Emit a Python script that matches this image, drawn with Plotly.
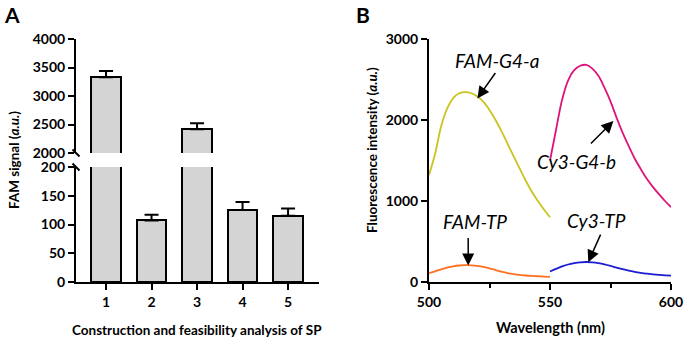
import plotly.graph_objects as go

# ---------------- data ----------------
categories = [1, 2, 3, 4, 5]
fam_signal = [3328, 107, 2416, 125, 115]
fam_err = [111, 10, 105, 14, 13]

wl_fam = [500, 502.5, 505, 507.5, 510, 512.5, 515, 517.5, 520, 522.5, 525,
          527.5, 530, 532.5, 535, 537.5, 540, 542.5, 545, 547.5, 550]
fam_g4a = [1320, 1580, 1920, 2140, 2270, 2330, 2345, 2330, 2290, 2225, 2125,
           2000, 1860, 1705, 1550, 1400, 1250, 1115, 1000, 895, 800]
fam_tp = [110, 132, 157, 178, 194, 204, 208, 206, 199, 186, 168,
          148, 128, 111, 98, 88, 80, 75, 71, 67, 64]

wl_cy3 = [550, 552.5, 555, 557.5, 560, 562.5, 565, 567.5, 570, 572.5, 575,
          577.5, 580, 582.5, 585, 587.5, 590, 592.5, 595, 597.5, 600]
cy3_g4b = [1500, 1880, 2250, 2490, 2615, 2670, 2680, 2635, 2545, 2400, 2230,
           2030, 1845, 1680, 1525, 1395, 1275, 1175, 1085, 1000, 925]
cy3_tp = [130, 162, 192, 216, 232, 243, 247, 243, 233, 218, 199,
          178, 158, 140, 125, 113, 103, 95, 88, 83, 78]

W, H = 685, 339
FONT = "Lato"


def px(x):
    return x / W


def py(y):
    return (H - y) / H


fig = go.Figure()

# ---------- panel A : broken-axis bar chart ----------
low_max, high_min = 200, 2000
low_err = [e if v < low_max else 0 for v, e in zip(fam_signal, fam_err)]
fig.add_trace(go.Bar(
    x=categories, y=fam_signal, width=0.64,
    marker=dict(color="#d4d4d4", line=dict(color="black", width=2)),
    error_y=dict(type="data", array=low_err, arrayminus=[0] * 5, symmetric=False,
                 color="black", thickness=2, width=7),
    xaxis="x", yaxis="y", showlegend=False))

hi_x = [c for c, v in zip(categories, fam_signal) if v >= high_min]
hi_y = [v for v in fam_signal if v >= high_min]
hi_e = [e for v, e in zip(fam_signal, fam_err) if v >= high_min]
fig.add_trace(go.Bar(
    x=hi_x, y=hi_y, width=0.64,
    marker=dict(color="#d4d4d4", line=dict(color="black", width=2)),
    error_y=dict(type="data", array=hi_e, arrayminus=[0] * len(hi_e), symmetric=False,
                 color="black", thickness=2, width=7),
    xaxis="x", yaxis="y3", showlegend=False))

# ---------- panel B : spectra ----------
fig.add_trace(go.Scatter(x=wl_fam, y=fam_g4a, mode="lines", line=dict(color="#c9c41e", width=1.8, shape="spline"),
                         xaxis="x2", yaxis="y2", showlegend=False))
fig.add_trace(go.Scatter(x=wl_fam, y=fam_tp, mode="lines", line=dict(color="#ff6f1f", width=1.8, shape="spline"),
                         xaxis="x2", yaxis="y2", showlegend=False))
fig.add_trace(go.Scatter(x=wl_cy3, y=cy3_g4b, mode="lines", line=dict(color="#df1479", width=1.8, shape="spline"),
                         xaxis="x2", yaxis="y2", showlegend=False))
fig.add_trace(go.Scatter(x=wl_cy3, y=cy3_tp, mode="lines", line=dict(color="#1b1bd2", width=1.8, shape="spline"),
                         xaxis="x2", yaxis="y2", showlegend=False))

tickfont = dict(family=FONT, size=14, color="black", weight="bold")
axis_common = dict(showline=True, linecolor="black", linewidth=2, ticks="outside",
                   ticklen=6, tickwidth=2, tickcolor="black", showgrid=False,
                   zeroline=False, tickfont=tickfont, fixedrange=True, automargin=False)

fig.update_layout(
    width=W, height=H, margin=dict(l=0, r=0, t=0, b=0, pad=0), autosize=False,
    paper_bgcolor="white", plot_bgcolor="white", bargap=0,
    xaxis=dict(domain=[px(76), px(319)], range=[0.34, 5.68], anchor="y",
               tickvals=categories, ticktext=[str(c) for c in categories], **axis_common),
    yaxis=dict(domain=[py(282), py(167)], range=[0, low_max], anchor="x",
               tickvals=[0, 50, 100, 150, 200], **axis_common),
    yaxis3=dict(domain=[py(153), py(39)], range=[high_min, 4000], anchor="x",
                tickvals=[2000, 2500, 3000, 3500, 4000], **axis_common),
    xaxis2=dict(domain=[px(429), px(671)], range=[500, 600], anchor="y2",
                tickvals=[500, 550, 600],
                minor=dict(tickvals=[525, 575], ticks="outside", ticklen=4, tickwidth=2, tickcolor="black"),
                **axis_common),
    yaxis2=dict(domain=[py(282), py(39)], range=[0, 3000], anchor="x2",
                tickvals=[0, 1000, 2000, 3000], **axis_common),
)

# axis break marks
for y0 in (149.5, 163.5):
    fig.add_shape(type="line", xref="paper", yref="paper",
                  x0=px(72.5), x1=px(79.5), y0=py(y0), y1=py(y0 + 7),
                  line=dict(color="black", width=2))

ann = []
# panel letters
ann.append(dict(text="<b>A</b>", x=px(12), y=py(14), font=dict(family=FONT, size=21, color="black")))
ann.append(dict(text="<b>B</b>", x=px(363), y=py(14), font=dict(family=FONT, size=21, color="black")))
# axis titles
ann.append(dict(text="<b>FAM signal (<i>a.u.</i>)</b>", x=px(14), y=py(160), textangle=-90,
                font=dict(family=FONT, size=13.5, color="black")))
ann.append(dict(text="<b>Construction and feasibility analysis of SP</b>", x=px(197), y=py(330),
                font=dict(family=FONT, size=13.5, color="black")))
ann.append(dict(text="<b>Fluorescence intensity (<i>a.u.</i>)</b>", x=px(372), y=py(150), textangle=-90,
                font=dict(family=FONT, size=13.5, color="black")))
ann.append(dict(text="<b>Wavelength (nm)</b>", x=px(550), y=py(327),
                font=dict(family=FONT, size=14.5, color="black")))
# curve labels
lab_font = dict(family=FONT, size=19, color="black", style="italic")
ann.append(dict(text="FAM-G4-a", x=px(497), y=py(60), font=lab_font))
ann.append(dict(text="Cy3-G4-b", x=px(576), y=py(161), font=lab_font))
ann.append(dict(text="FAM-TP", x=px(475), y=py(221), font=lab_font))
ann.append(dict(text="Cy3-TP", x=px(596), y=py(220), font=lab_font))
for a in ann:
    a.update(xref="paper", yref="paper", showarrow=False, xanchor="center", yanchor="middle")
    fig.add_annotation(**a)

# arrows (head at data point, tail offset in px)
arrows = [(520.0, 2266, 19, -27), (576.2, 1988, -24, 24), (516.2, 204, 0, -29), (565.8, 245, 13, -29)]
for xh, yh, axp, ayp in arrows:
    fig.add_annotation(x=xh, y=yh, xref="x2", yref="y2", text="", showarrow=True,
                       ax=axp, ay=ayp, arrowhead=2, arrowsize=1.6, arrowwidth=1.5, arrowcolor="black")

fig.write_html("out.html", config={"displayModeBar": False},
               post_script="document.body.style.margin='0';document.body.style.overflow='hidden';")
